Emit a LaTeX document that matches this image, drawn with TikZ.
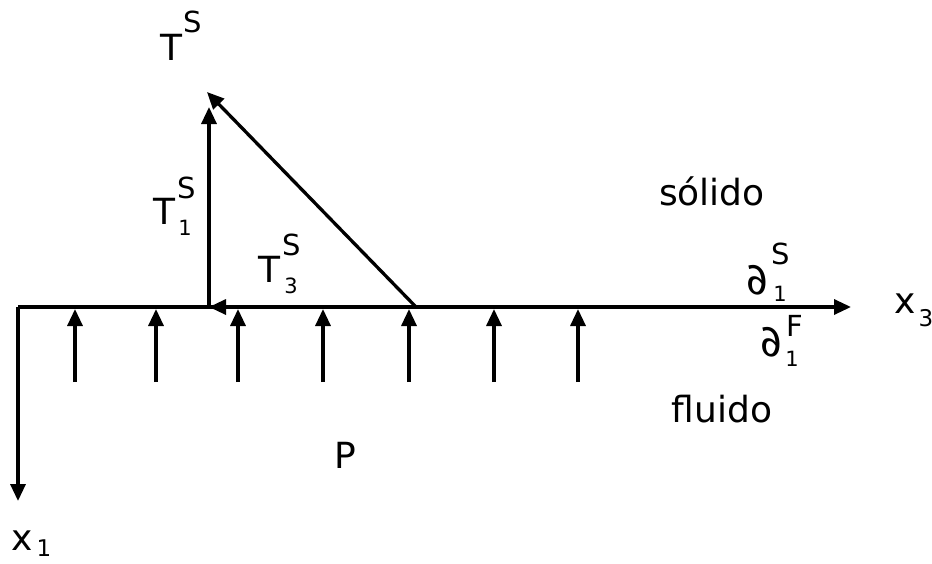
\documentclass[tikz,border=0pt]{standalone}
\usepackage{fontspec}
\setmainfont{DejaVu Sans}
\usetikzlibrary{arrows.meta}
\tikzset{
  ln/.style={line width=3.3pt},
  arr/.style={ln,-{Triangle[length=17pt,width=15pt]}},
  big/.style={inner sep=0pt,font=\fontsize{36}{40}\selectfont},
  dee/.style={inner sep=0pt,font=\fontsize{44}{48}\selectfont,xslant=-0.22,transform shape},
  sup/.style={inner sep=0pt,font=\fontsize{29}{32}\selectfont},
  sub/.style={inner sep=0pt,font=\fontsize{21}{23}\selectfont},
  subb/.style={inner sep=0pt,font=\fontsize{23}{25}\selectfont},
}
\begin{document}
\begin{tikzpicture}[x=1pt,y=-1pt]
\useasboundingbox (0,0) rectangle (932,563);
% axes
\coordinate (O) at (18,307);
\coordinate (X3tip) at (851,307);
\coordinate (X1tip) at (18,501);
\draw[arr] (O) -- (X3tip);
\draw[arr] (O) -- (X1tip);
% pressure arrows
\foreach \i/\x in {1/75,2/156,3/238,4/323,5/409,6/494,7/578}{
  \coordinate (pb\i) at (\x,382);
  \coordinate (pt\i) at (\x,309);
  \draw[arr] (pb\i) -- (pt\i);
}
% traction vectors
\coordinate (A) at (416,307);
\coordinate (B) at (209,307);
\coordinate (C) at (209,107);
\coordinate (D) at (207,92);
\draw[arr] (B) -- (C);
\draw[arr] (A) -- (D);
\draw[arr] (A) -- (B);
% labels
\node[big] (TS) at (171,47) {T};
\node[sup] (TSs) at (193,22) {S};
\node[big] (T1) at (164,211) {T};
\node[sup] (T1s) at (187,188) {S};
\node[sub] (T1i) at (185,228) {1};
\node[big] (T3) at (269,269) {T};
\node[sup] (T3s) at (292,245) {S};
\node[sub] (T3i) at (291,286) {3};
\node[dee] (dS) at (757,280) {∂};
\node[sup] (dSs) at (781,254) {S};
\node[sub] (dSi) at (780,294) {1};
\node[dee] (dF) at (771,342) {∂};
\node[sup] (dFs) at (795,326) {F};
\node[sub] (dFi) at (792,359) {1};
\node[big] (x3) at (905,304) {x};
\node[subb] (x3i) at (926,318) {3};
\node[big] (x1) at (22,541) {x};
\node[subb] (x1i) at (44,548) {1};
\node[big,anchor=base] (sol) at (712,205) {sólido};
\node[big,anchor=base] (flu) at (722,422) {fluido};
\node[big] (P) at (345,455) {P};
\end{tikzpicture}
\end{document}
